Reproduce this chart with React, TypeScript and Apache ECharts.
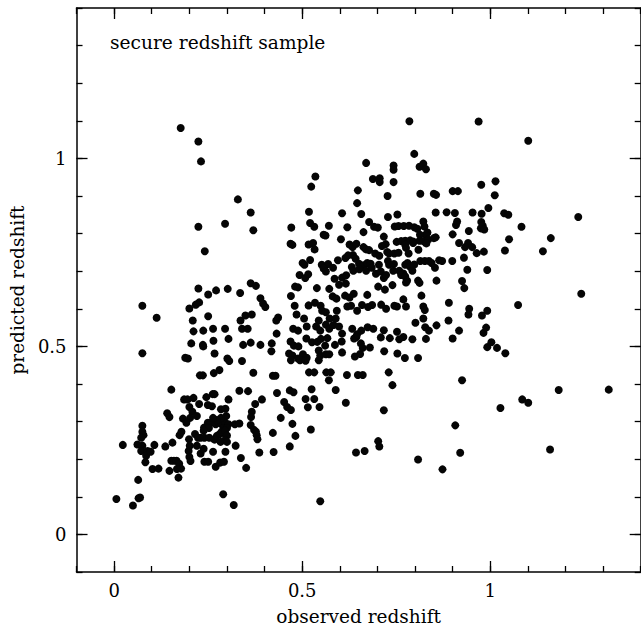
import React, { useEffect, useRef } from "react";
import * as echarts from "echarts";

// [observed redshift, predicted redshift]
const highPredicted: number[][] = [
  [0.177,1.081],[0.224,1.045],[0.231,0.992],[0.785,1.099],[0.969,1.098],[1.101,1.047],[0.798,1.012],[0.812,0.978],[0.822,0.986],[0.829,0.971],
  [0.670,0.988],[0.743,0.981],[0.743,0.970],[0.535,0.952],[0.688,0.945],[0.706,0.947],[0.706,0.937],[0.743,0.937],[0.524,0.925],[1.014,0.939],
  [0.976,0.930],[0.648,0.915],[0.727,0.900],[0.814,0.906],[0.850,0.906],[0.856,0.903],[0.900,0.913],[0.914,0.913],[1.012,0.902],[0.329,0.891],[0.646,0.881],
];

const upperBand: number[][] = [
  [0.363,0.856],[0.518,0.858],[0.606,0.854],[0.657,0.852],[0.753,0.851],[0.855,0.856],[0.884,0.857],[0.906,0.855],[0.953,0.856],[0.995,0.868],
  [1.037,0.854],[1.048,0.850],[1.234,0.844],[0.728,0.844],[0.977,0.853],[0.295,0.826],[0.224,0.818],[0.370,0.809],[0.471,0.816],[0.521,0.828],
  [0.532,0.818],[0.571,0.821],[0.620,0.817],[0.678,0.831],[0.691,0.818],[0.663,0.804],[0.701,0.816],[0.717,0.792],[0.746,0.819],[0.756,0.820],
  [0.770,0.820],[0.784,0.821],[0.798,0.817],[0.806,0.813],[0.822,0.832],[0.825,0.819],[0.833,0.803],[0.855,0.790],[0.900,0.798],[0.909,0.823],
  [0.912,0.832],[0.943,0.807],[0.976,0.831],[0.975,0.814],[0.980,0.821],[0.984,0.811],[1.083,0.818],[1.161,0.788],[0.829,0.797],[0.813,0.797],
  [0.751,0.778],[0.763,0.780],[0.774,0.781],[0.787,0.782],[0.795,0.779],[0.812,0.781],[0.822,0.780],[0.835,0.784],
  [0.241,0.753],[0.469,0.773],[0.474,0.770],[0.517,0.771],[0.529,0.775],[0.533,0.758],[0.557,0.797],[0.562,0.795],[0.603,0.785],[0.626,0.771],
  [0.634,0.764],[0.644,0.773],[0.663,0.764],[0.670,0.758],[0.678,0.756],[0.694,0.747],[0.705,0.741],[0.712,0.767],[0.722,0.772],[0.726,0.751],
  [0.731,0.747],[0.745,0.747],[0.756,0.749],[0.774,0.770],[0.776,0.762],[0.783,0.747],[0.795,0.775],[0.809,0.757],[0.830,0.774],[0.850,0.788],
  [0.917,0.775],[0.941,0.775],[0.952,0.764],[0.933,0.764],[0.964,0.748],[0.983,0.752],[1.039,0.755],[1.050,0.785],[1.140,0.753],
];

const middleBand: number[][] = [
  [0.501,0.722],[0.506,0.717],[0.521,0.730],[0.552,0.717],[0.569,0.719],[0.582,0.709],[0.595,0.729],[0.615,0.735],[0.622,0.742],[0.635,0.743],
  [0.642,0.733],[0.651,0.720],[0.663,0.716],[0.673,0.722],[0.682,0.720],[0.696,0.693],[0.704,0.717],[0.728,0.727],[0.731,0.717],[0.744,0.719],
  [0.758,0.701],[0.769,0.694],[0.774,0.717],[0.780,0.722],[0.787,0.712],[0.793,0.701],[0.798,0.718],[0.814,0.727],[0.826,0.727],[0.837,0.727],
  [0.844,0.722],[0.853,0.709],[0.864,0.729],[0.872,0.727],[0.899,0.727],[0.930,0.736],[0.939,0.704],[0.992,0.703],
  [0.493,0.690],[0.508,0.682],[0.516,0.692],[0.557,0.707],[0.563,0.699],[0.586,0.680],[0.606,0.683],[0.617,0.689],[0.632,0.711],[0.636,0.701],
  [0.652,0.705],[0.670,0.701],[0.685,0.709],[0.709,0.699],[0.717,0.682],[0.723,0.690],[0.742,0.701],[0.763,0.690],[0.774,0.686],[0.779,0.675],
  [0.808,0.675],[0.812,0.669],[0.857,0.675],[0.925,0.674],
  [0.224,0.654],[0.250,0.638],[0.271,0.649],[0.302,0.653],[0.363,0.668],[0.481,0.659],[0.489,0.657],[0.539,0.655],[0.572,0.653],[0.598,0.664],
  [0.616,0.667],[0.637,0.640],[0.673,0.637],[0.702,0.659],[0.720,0.651],[0.740,0.663],[0.776,0.670],[0.817,0.635],[0.931,0.655],[1.242,0.640],
  [0.389,0.628],[0.396,0.614],[0.402,0.605],[0.470,0.634],[0.480,0.608],[0.517,0.609],[0.534,0.616],[0.549,0.608],[0.581,0.633],[0.591,0.627],
  [0.614,0.635],[0.626,0.630],[0.659,0.610],[0.686,0.610],[0.710,0.611],[0.745,0.608],[0.769,0.625],[0.776,0.606],[0.822,0.606],[0.826,0.597],
  [0.890,0.616],[0.944,0.600],[1.074,0.610],[0.992,0.595],[0.075,0.608],[0.200,0.601],[0.217,0.611],[0.226,0.617],[0.250,0.580],[0.335,0.642],[0.377,0.661],
  [0.113,0.576],[0.209,0.569],[0.336,0.569],[0.349,0.582],[0.366,0.585],[0.436,0.577],[0.431,0.569],[0.485,0.585],[0.505,0.574],[0.544,0.569],
  [0.553,0.595],[0.563,0.591],[0.573,0.574],[0.592,0.595],[0.620,0.606],[0.630,0.608],[0.646,0.595],[0.675,0.605],[0.723,0.600],[0.752,0.606],
  [0.801,0.563],[0.822,0.574],[0.889,0.569],[0.942,0.585],[0.978,0.582],
];

const lowerBand: number[][] = [
  [0.211,0.540],[0.237,0.542],[0.263,0.547],[0.295,0.547],[0.340,0.547],[0.355,0.547],[0.432,0.534],[0.476,0.547],[0.489,0.542],[0.512,0.553],
  [0.537,0.553],[0.548,0.542],[0.563,0.558],[0.572,0.547],[0.583,0.557],[0.589,0.574],[0.598,0.553],[0.606,0.534],[0.633,0.547],[0.644,0.525],
  [0.657,0.542],[0.674,0.551],[0.689,0.547],[0.717,0.543],[0.752,0.539],[0.769,0.525],[0.827,0.551],[0.837,0.542],[0.829,0.520],[0.857,0.556],
  [0.917,0.542],[0.982,0.536],[0.989,0.550],[0.900,0.521],
  [0.205,0.508],[0.236,0.504],[0.264,0.515],[0.304,0.520],[0.343,0.504],[0.363,0.510],[0.389,0.504],[0.419,0.508],[0.469,0.513],[0.478,0.502],
  [0.490,0.500],[0.511,0.521],[0.526,0.511],[0.540,0.512],[0.550,0.520],[0.561,0.502],[0.567,0.522],[0.587,0.504],[0.605,0.513],[0.638,0.521],
  [0.646,0.532],[0.656,0.508],[0.661,0.496],[0.680,0.497],[0.709,0.524],[0.733,0.522],[0.758,0.519],[0.793,0.519],[0.992,0.498],[1.003,0.511],[1.018,0.496],
  [0.075,0.482],[0.189,0.470],[0.196,0.468],[0.237,0.500],[0.267,0.481],[0.301,0.468],[0.340,0.461],[0.418,0.487],[0.465,0.481],[0.474,0.476],
  [0.489,0.468],[0.502,0.479],[0.512,0.470],[0.544,0.489],[0.548,0.476],[0.563,0.479],[0.572,0.479],[0.606,0.484],[0.640,0.473],[0.654,0.480],
  [0.718,0.487],[0.753,0.481],[0.773,0.469],[0.808,0.469],[1.040,0.482],
  [0.306,0.461],[0.370,0.430],[0.422,0.422],[0.429,0.422],[0.470,0.463],[0.494,0.463],[0.509,0.462],[0.518,0.431],[0.532,0.431],[0.544,0.463],
  [0.564,0.431],[0.571,0.410],[0.576,0.431],[0.619,0.424],[0.648,0.424],[0.661,0.424],[0.730,0.431],[0.740,0.397],[0.925,0.410],[0.228,0.423],
  [0.236,0.423],[0.265,0.429],[0.280,0.437],
  [0.152,0.385],[0.186,0.359],[0.195,0.359],[0.211,0.363],[0.226,0.347],[0.245,0.365],[0.262,0.373],[0.267,0.373],[0.304,0.359],[0.333,0.382],
  [0.356,0.381],[0.393,0.359],[0.433,0.376],[0.452,0.352],[0.467,0.383],[0.477,0.378],[0.525,0.386],[0.509,0.360],[0.532,0.360],[0.589,0.384],
  [0.616,0.350],[0.717,0.330],[1.182,0.384],[1.315,0.385],[1.085,0.359],[1.101,0.350],[1.027,0.336],
];

const lowPredicted: number[][] = [
  [0.141,0.322],[0.147,0.312],[0.200,0.339],[0.208,0.326],[0.202,0.310],[0.249,0.344],[0.260,0.341],[0.284,0.333],[0.296,0.334],[0.298,0.315],
  [0.375,0.347],[0.366,0.326],[0.364,0.312],[0.443,0.310],[0.460,0.339],[0.470,0.331],[0.474,0.294],[0.515,0.338],[0.523,0.279],[0.546,0.339],
  [0.075,0.289],[0.183,0.308],[0.192,0.297],[0.220,0.315],[0.239,0.284],[0.249,0.297],[0.257,0.297],[0.270,0.293],[0.279,0.297],[0.286,0.293],
  [0.295,0.297],[0.304,0.293],[0.321,0.293],[0.333,0.295],[0.363,0.291],[0.372,0.278],[0.907,0.290],
  [0.291,0.283],[0.300,0.283],[0.295,0.267],[0.284,0.310],[0.273,0.304],[0.263,0.310],[0.252,0.283],
  [0.075,0.273],[0.078,0.264],[0.072,0.257],[0.075,0.236],[0.062,0.239],[0.023,0.238],[0.107,0.238],[0.136,0.234],[0.155,0.244],[0.174,0.264],
  [0.179,0.273],[0.199,0.253],[0.215,0.267],[0.238,0.276],[0.223,0.257],[0.230,0.257],[0.240,0.257],[0.253,0.257],[0.267,0.252],[0.273,0.262],
  [0.281,0.267],[0.286,0.273],[0.295,0.276],[0.300,0.263],[0.295,0.251],[0.283,0.246],[0.300,0.246],[0.377,0.273],[0.379,0.264],[0.381,0.253],
  [0.422,0.270],[0.467,0.234],[0.482,0.262],[0.643,0.218],[0.666,0.222],[0.702,0.248],[0.705,0.234],[0.920,0.217],[1.159,0.226],
  [0.072,0.222],[0.089,0.222],[0.085,0.209],[0.097,0.220],[0.083,0.192],[0.102,0.174],[0.118,0.175],[0.147,0.169],[0.152,0.196],[0.159,0.196],
  [0.166,0.196],[0.173,0.188],[0.178,0.175],[0.167,0.174],[0.171,0.151],[0.201,0.236],[0.198,0.222],[0.200,0.206],[0.203,0.195],[0.220,0.236],
  [0.230,0.215],[0.238,0.228],[0.240,0.193],[0.250,0.193],[0.263,0.220],[0.270,0.180],[0.282,0.191],[0.292,0.193],[0.296,0.220],[0.323,0.236],
  [0.337,0.203],[0.351,0.177],[0.386,0.218],[0.424,0.219],[0.808,0.199],[0.873,0.173],[0.064,0.145],[0.006,0.094],[0.050,0.077],[0.065,0.096],
  [0.069,0.098],[0.290,0.107],[0.318,0.078],[0.548,0.088],
];

const majorTicks = [0, 0.5, 1];
const minorTicks = [-0.1, 0, 0.1, 0.2, 0.3, 0.4, 0.5, 0.6, 0.7, 0.8, 0.9, 1, 1.1, 1.2, 1.3, 1.4];
const axisMin = -0.1;
const axisMax = 1.4;

const FONT = "DejaVu Serif";
const INK = "#000";

export default function App() {
  const ref = useRef<HTMLDivElement>(null);

  useEffect(() => {
    if (!ref.current) return;
    const chart = echarts.init(ref.current, undefined, { renderer: "svg" });
    const points = [...highPredicted, ...upperBand, ...middleBand, ...lowerBand, ...lowPredicted];

    const lineStyle = { color: INK, width: 1.5 };
    const tickStyle = { color: INK, width: 1.3 };
    const labelStyle = { fontFamily: FONT, fontSize: 18, color: INK };

    const makeAxis = (position: string, major: boolean, main: boolean, nameCfg: any) => ({
      type: "value",
      min: axisMin,
      max: axisMax,
      position,
      axisLine: { show: major, onZero: false, lineStyle },
      axisTick: {
        show: true,
        inside: true,
        length: major ? 11 : 6,
        customValues: major ? majorTicks : minorTicks,
        lineStyle: tickStyle,
      },
      axisLabel: main
        ? { show: true, customValues: majorTicks, ...labelStyle, ...nameCfg.label }
        : { show: false },
      splitLine: { show: false },
      ...(main ? nameCfg.name : {}),
    });

    const xName = {
      label: { margin: 9 },
      name: {
        name: "observed redshift",
        nameLocation: "middle",
        nameGap: 35,
        nameTextStyle: { ...labelStyle, fontSize: 18.5 },
      },
    };
    const yName = {
      label: { margin: 10 },
      name: {
        name: "predicted redshift",
        nameLocation: "middle",
        nameGap: 34,
        nameTextStyle: { ...labelStyle, fontSize: 18.5 },
      },
    };

    chart.setOption({
      animation: false,
      backgroundColor: "#fff",
      grid: { left: 70.7, top: 8, width: 570, height: 570, containLabel: false },
      xAxis: [
        makeAxis("bottom", true, true, xName),
        makeAxis("bottom", false, false, xName),
        makeAxis("top", true, false, xName),
        makeAxis("top", false, false, xName),
      ],
      yAxis: [
        makeAxis("left", true, true, yName),
        makeAxis("left", false, false, yName),
        makeAxis("right", true, false, yName),
        makeAxis("right", false, false, yName),
      ],
      graphic: [
        {
          type: "text",
          x: 110,
          y: 42,
          style: {
            text: "secure redshift sample",
            fontFamily: FONT,
            fontSize: 18.6,
            fill: INK,
            verticalAlign: "middle",
          },
        },
      ],
      series: [
        {
          type: "scatter",
          xAxisIndex: 0,
          yAxisIndex: 0,
          data: points,
          symbol: "circle",
          symbolSize: 8,
          itemStyle: { color: "#050505", opacity: 1 },
          emphasis: { disabled: true },
          silent: true,
        },
      ],
    });

    return () => chart.dispose();
  }, []);

  return (
    <div
      ref={ref}
      style={{ position: "fixed", left: 0, top: 0, width: 641, height: 631, background: "#fff" }}
    />
  );
}
